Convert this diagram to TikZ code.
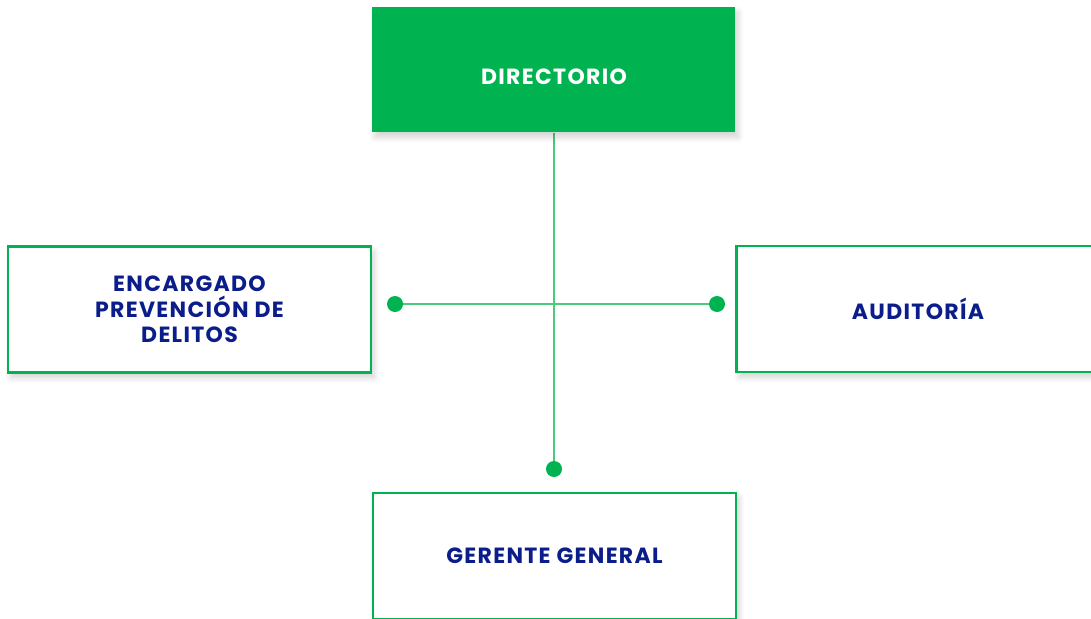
\documentclass[tikz,border=0pt]{standalone}
\usepackage{fontspec}
\setmainfont{Poppins}[LetterSpace=6]
\usetikzlibrary{shadows.blur,backgrounds}
\definecolor{dgreen}{HTML}{00B350}
\definecolor{lgreen}{HTML}{4CC97A}
\definecolor{dblue}{HTML}{0B1D8A}
\tikzset{
  lbl/.style={font=\fontsize{22}{25.5}\selectfont\bfseries, align=center},
  box/.style={lbl, rectangle, minimum width=363pt, minimum height=126pt, inner sep=0pt,
    fill=white, draw=dgreen, line width=2.4pt,
    blur shadow={shadow xshift=3pt, shadow yshift=-5pt, shadow blur steps=8, shadow blur radius=6pt, shadow opacity=18},
    text=dblue},
  topbox/.style={box, fill=dgreen, draw=none, text=white},
  conn/.style={draw=lgreen, line width=1.4pt},
  dot/.style={circle, fill=dgreen, minimum size=16pt, inner sep=0pt},
}
\begin{document}
\begin{tikzpicture}[x=1pt, y=-1pt]
\useasboundingbox (0,0) rectangle (1091,618);
\node[topbox, minimum height=125pt] (dir) at (553.5,69.5) {};
\node[lbl, text=white] (dirt) at (554,77) {DIRECTORIO};
\node[box] (epd) at (189.5,309.5) {ENCARGADO\\PREVENCIÓN DE\\DELITOS};
\node[box] (aud) at (918,309) {AUDITORÍA};
\node[box] (ger) at (554.5,556) {GERENTE GENERAL};
\coordinate (c) at (554,304);
\node[dot] (d1) at (395,304) {};
\node[dot] (d2) at (717,304) {};
\node[dot] (d3) at (554,469) {};
\begin{scope}[on background layer]
\draw[conn] (d1.center) -- (d2.center);
\draw[conn] (dir.south -| c) -- (d3.center);
\end{scope}
\end{tikzpicture}
\end{document}
